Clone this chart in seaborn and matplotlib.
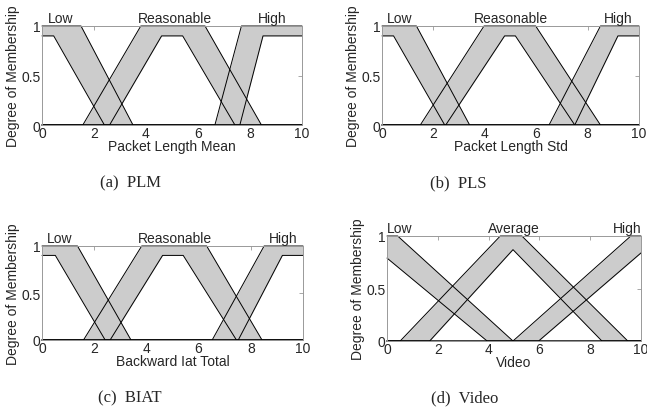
import numpy as np
import matplotlib
matplotlib.use("Agg")
import matplotlib.pyplot as plt
import seaborn as sns

# interval type-2 sets, each MF as [a, b, c, d, height]
plm_upper = [[-1, -1, 1.5, 3.5, 1], [1.57, 3.8, 6.27, 8.44, 1], [6.65, 7.67, 11, 11, 1]]
plm_lower = [[-1, -1, 0.45, 2.4, 0.9], [2.6, 4.6, 5.41, 7.42, 0.9], [7.61, 8.5, 11, 11, 0.9]]

pls_upper = [[-1, -1, 1.34, 3.41, 1], [1.49, 3.97, 5.98, 8.5, 1], [6.5, 8.5, 11, 11, 1]]
pls_lower = [[-1, -1, 0.45, 2.44, 0.9], [2.48, 4.77, 5.19, 7.5, 0.9], [7.5, 9.18, 11, 11, 0.9]]

biat_upper = [[-1, -1, 1.36, 3.41, 1], [1.59, 3.82, 6.31, 8.43, 1], [6.52, 8.51, 11, 11, 1]]
biat_lower = [[-1, -1, 0.51, 2.42, 0.9], [2.61, 4.62, 5.41, 7.45, 0.9], [7.52, 9.21, 11, 11, 0.9]]

video_upper = [[-1, -1, 0.42, 4.96, 1], [0.52, 4.46, 5.31, 9.48, 1], [4.96, 9.6, 11, 11, 1]]
video_lower = [[-1, -0.4, -0.4, 3.94, 0.87], [1.68, 4.96, 4.96, 8.46, 0.87], [5.97, 10.15, 10.15, 11, 0.87]]

names_lrh = ["Low", "Reasonable", "High"]
names_lah = ["Low", "Average", "High"]

x_ticks = [0, 2, 4, 6, 8, 10]
y_ticks = [0, 0.5, 1]
y_ticklabels = ["0", "0.5", "1"]

W, H = 647, 414

# panel: (upper, lower, names, label centers, xlabel, caption, axes box px, caption px)
panels = [
    (plm_upper, plm_lower, names_lrh, [0.7, 5.1, 8.85], "Packet Length Mean", "(a)  PLM",
     (42, 302, 27, 126), (130, 183)),
    (pls_upper, pls_lower, names_lrh, [0.7, 5.0, 9.2], "Packet Length Std", "(b)  PLS",
     (382, 639, 27, 126), (458, 183)),
    (biat_upper, biat_lower, names_lrh, [0.67, 5.1, 9.25], "Backward Iat Total", "(c)  BIAT",
     (42, 303, 247, 341), (130, 398)),
    (video_upper, video_lower, names_lah, [0.5, 5.0, 9.45], "Video", "(d)  Video",
     (387, 641, 237, 342), (465, 398)),
]

sns.set_style("white")
plt.rcParams["font.family"] = ["Liberation Sans", "DejaVu Sans"]
plt.rcParams["font.size"] = 10


def mf_points(p, extra=()):
    a, b, c, d, h = p
    xs = np.unique(np.clip([0, a, b, c, d, 10, *extra], 0, 10))
    ys = np.interp(xs, [a, b, c, d], [0, h, h, 0], left=0, right=0)
    return xs, ys


fig = plt.figure(figsize=(W / 100, H / 100), dpi=100)

for upper, lower, names, lab_x, xlabel, caption, box, cap in panels:
    l, r, t, b = box
    ax = fig.add_axes([l / W, 1 - b / H, (r - l) / W, (b - t) / H])

    # footprint of uncertainty
    for pu, pl in zip(upper, lower):
        grid = np.unique(np.concatenate([mf_points(pu)[0], mf_points(pl)[0]]))
        _, yu = mf_points(pu, grid)
        _, yl = mf_points(pl, grid)
        ax.fill_between(grid, np.minimum(yl, yu), np.maximum(yl, yu), color="#cccccc", lw=0)

    for p in upper + lower:
        xs, ys = mf_points(p)
        sns.lineplot(x=xs, y=ys, ax=ax, sort=False, estimator=None,
                     color="black", lw=0.7, clip_on=False)

    for name, xc in zip(names, lab_x):
        ax.annotate(name, (xc, 1), xytext=(0, 3), textcoords="offset points",
                    ha="center", va="baseline", fontsize=10)

    ax.set_xlim(0, 10)
    ax.set_ylim(0, 1)
    ax.set_xticks(x_ticks)
    ax.set_yticks(y_ticks)
    ax.set_yticklabels(y_ticklabels)
    ax.tick_params(direction="in", length=3, width=0.6, color="#999999",
                   top=True, right=True, pad=1, labelsize=10)
    for s in ax.spines.values():
        s.set_color("#999999")
        s.set_linewidth(0.7)
    ax.set_xlabel(xlabel, labelpad=-1)
    ax.set_ylabel("Degree of Membership", labelpad=1)

    fig.text(cap[0] / W, 1 - cap[1] / H, caption, ha="center", va="center",
             fontsize=12, family=["Liberation Serif", "DejaVu Serif"])

fig.savefig("out.png", dpi=100)
